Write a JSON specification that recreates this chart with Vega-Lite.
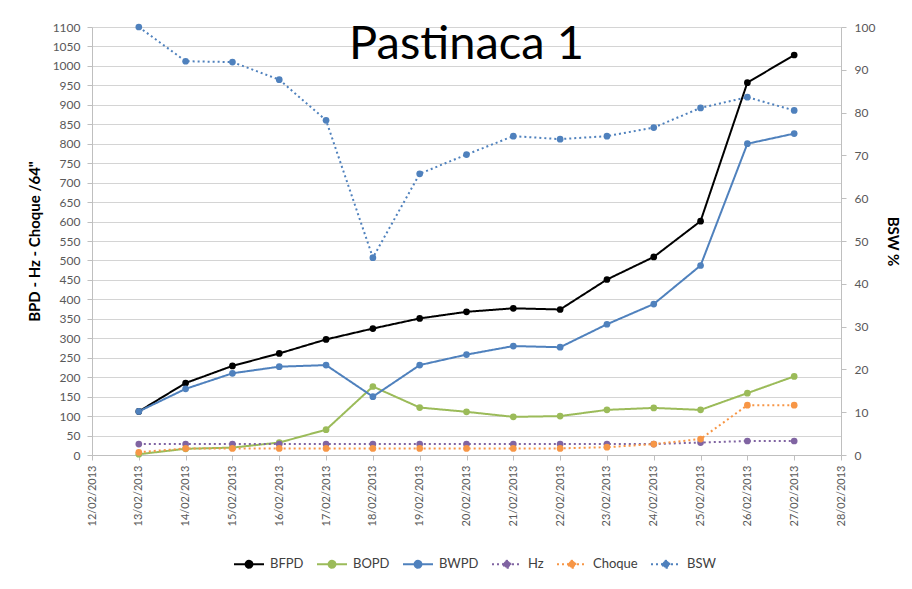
{
  "$schema": "https://vega.github.io/schema/vega-lite/v6.json",
  "width": 749,
  "height": 428,
  "autosize": {"type": "none"},
  "padding": {"left": 92, "top": 27, "right": 71, "bottom": 134},
  "background": "white",
  "title": {"text": "Pastinaca 1", "font": "Lato", "fontSize": 47, "fontWeight": "normal", "color": "#000000", "anchor": "middle", "baseline": "alphabetic", "offset": -85},
  "data": {"values": [
    {"date": "2013-02-13", "BFPD": 112, "BOPD": 2, "BWPD": 112, "Hz": 28, "Choque": 7, "BSW": 100},
    {"date": "2013-02-14", "BFPD": 185, "BOPD": 16, "BWPD": 170, "Hz": 28, "Choque": 17, "BSW": 92},
    {"date": "2013-02-15", "BFPD": 229, "BOPD": 19, "BWPD": 210, "Hz": 28, "Choque": 17, "BSW": 91.8},
    {"date": "2013-02-16", "BFPD": 261, "BOPD": 32, "BWPD": 227, "Hz": 28, "Choque": 17, "BSW": 87.7},
    {"date": "2013-02-17", "BFPD": 297, "BOPD": 65, "BWPD": 231, "Hz": 28, "Choque": 17, "BSW": 78.2},
    {"date": "2013-02-18", "BFPD": 325, "BOPD": 176, "BWPD": 150, "Hz": 28, "Choque": 17, "BSW": 46.1},
    {"date": "2013-02-19", "BFPD": 351, "BOPD": 122, "BWPD": 231, "Hz": 28, "Choque": 17, "BSW": 65.7},
    {"date": "2013-02-20", "BFPD": 368, "BOPD": 111, "BWPD": 258, "Hz": 28, "Choque": 17, "BSW": 70.2},
    {"date": "2013-02-21", "BFPD": 377, "BOPD": 98, "BWPD": 280, "Hz": 28, "Choque": 17, "BSW": 74.5},
    {"date": "2013-02-22", "BFPD": 374, "BOPD": 100, "BWPD": 277, "Hz": 28, "Choque": 17, "BSW": 73.8},
    {"date": "2013-02-23", "BFPD": 451, "BOPD": 116, "BWPD": 336, "Hz": 28, "Choque": 20, "BSW": 74.5},
    {"date": "2013-02-24", "BFPD": 509, "BOPD": 121, "BWPD": 388, "Hz": 28, "Choque": 28, "BSW": 76.5},
    {"date": "2013-02-25", "BFPD": 601, "BOPD": 116, "BWPD": 487, "Hz": 32, "Choque": 41, "BSW": 81.1},
    {"date": "2013-02-26", "BFPD": 957, "BOPD": 159, "BWPD": 800, "Hz": 36, "Choque": 128, "BSW": 83.6},
    {"date": "2013-02-27", "BFPD": 1028, "BOPD": 202, "BWPD": 826, "Hz": 36, "Choque": 128, "BSW": 80.5}
  ]},
  "encoding": {
    "x": {"field": "date", "type": "temporal",
      "scale": {"type": "utc", "domain": [{"year": 2013, "month": "feb", "date": 12, "utc": true}, {"year": 2013, "month": "feb", "date": 28, "utc": true}]},
      "axis": {"title": null, "format": "%d/%m/%Y", "labelAngle": -90, "labelAlign": "right", "labelBaseline": "middle", "tickCount": {"interval": "day", "step": 1}, "grid": false, "labelFontSize": 11, "labelPadding": 5, "tickSize": 5, "labelOverlap": false, "labelBound": false, "labelFlush": false}}
  },
  "layer": [
    {
      "transform": [{"fold": ["BFPD", "BOPD", "BWPD", "Hz", "Choque"], "as": ["series", "value"]}],
      "encoding": {
        "y": {"field": "value", "type": "quantitative",
          "scale": {"domain": [0, 1100], "nice": false, "zero": true},
          "axis": {"title": "BPD - Hz - Choque /64\"", "orient": "left", "format": "d", "values": [0, 50, 100, 150, 200, 250, 300, 350, 400, 450, 500, 550, 600, 650, 700, 750, 800, 850, 900, 950, 1000, 1050, 1100], "grid": true, "gridColor": "#d4d4d4", "titleFontSize": 15, "titleFontWeight": "bold", "titleColor": "#000000", "titlePadding": 10, "labelPadding": 7}}
      },
      "layer": [
        {"mark": {"type": "line", "strokeWidth": 2},
          "encoding": {
            "stroke": {"field": "series", "type": "nominal", "title": null,
              "scale": {"domain": ["BFPD", "BOPD", "BWPD", "Hz", "Choque", "BSW"], "range": ["#000000", "#9bbb59", "#4f81bd", "#8064a2", "#f79646", "#4f81bd"]}},
            "strokeDash": {"field": "series", "type": "nominal", "title": null,
              "scale": {"domain": ["BFPD", "BOPD", "BWPD", "Hz", "Choque", "BSW"], "range": [[1, 0], [1, 0], [1, 0], [2, 3], [2, 3], [2, 3]]}}
          }},
        {"mark": {"type": "point", "filled": true, "size": 45, "opacity": 1, "strokeWidth": 0},
          "encoding": {
            "fill": {"field": "series", "type": "nominal", "title": null,
              "scale": {"domain": ["BFPD", "BOPD", "BWPD", "Hz", "Choque", "BSW"], "range": ["#000000", "#9bbb59", "#4f81bd", "#8064a2", "#f79646", "#4f81bd"]}}
          }}
      ]
    },
    {
      "transform": [{"fold": ["BSW"], "as": ["series", "value"]}],
      "encoding": {
        "y": {"field": "value", "type": "quantitative",
          "scale": {"domain": [0, 100], "nice": false},
          "axis": {"title": "BSW %", "orient": "right", "values": [0, 10, 20, 30, 40, 50, 60, 70, 80, 90, 100], "grid": false, "titleFontSize": 15, "titleFontWeight": "bold", "titleColor": "#000000", "titlePadding": 10, "labelPadding": 8}}
      },
      "layer": [
        {"mark": {"type": "line", "strokeWidth": 2},
          "encoding": {
            "stroke": {"field": "series", "type": "nominal", "title": null},
            "strokeDash": {"field": "series", "type": "nominal", "title": null}
          }},
        {"mark": {"type": "point", "filled": true, "size": 45, "opacity": 1, "strokeWidth": 0},
          "encoding": {
            "fill": {"field": "series", "type": "nominal", "title": null}
          }}
      ]
    }
  ],
  "resolve": {"scale": {"y": "independent"}},
  "config": {
    "font": "Lato",
    "view": {"stroke": null},
    "axis": {"labelColor": "#595959", "labelFontSize": 12, "domainColor": "#bfbfbf", "tickColor": "#bfbfbf", "tickSize": 5, "labelFont": "Lato", "titleFont": "Lato"},
    "legend": {"orient": "none", "legendX": 141, "legendY": 521, "direction": "horizontal", "padding": 0,
      "symbolType": "M-1,0L1,0M-0.23,0A0.23,0.23,0,1,0,0.23,0A0.23,0.23,0,1,0,-0.23,0Z",
      "symbolSize": 900, "symbolStrokeWidth": 2, "labelFontSize": 13, "labelColor": "#404040", "labelOffset": 5, "columnPadding": 9, "labelFont": "Lato"}
  }
}
